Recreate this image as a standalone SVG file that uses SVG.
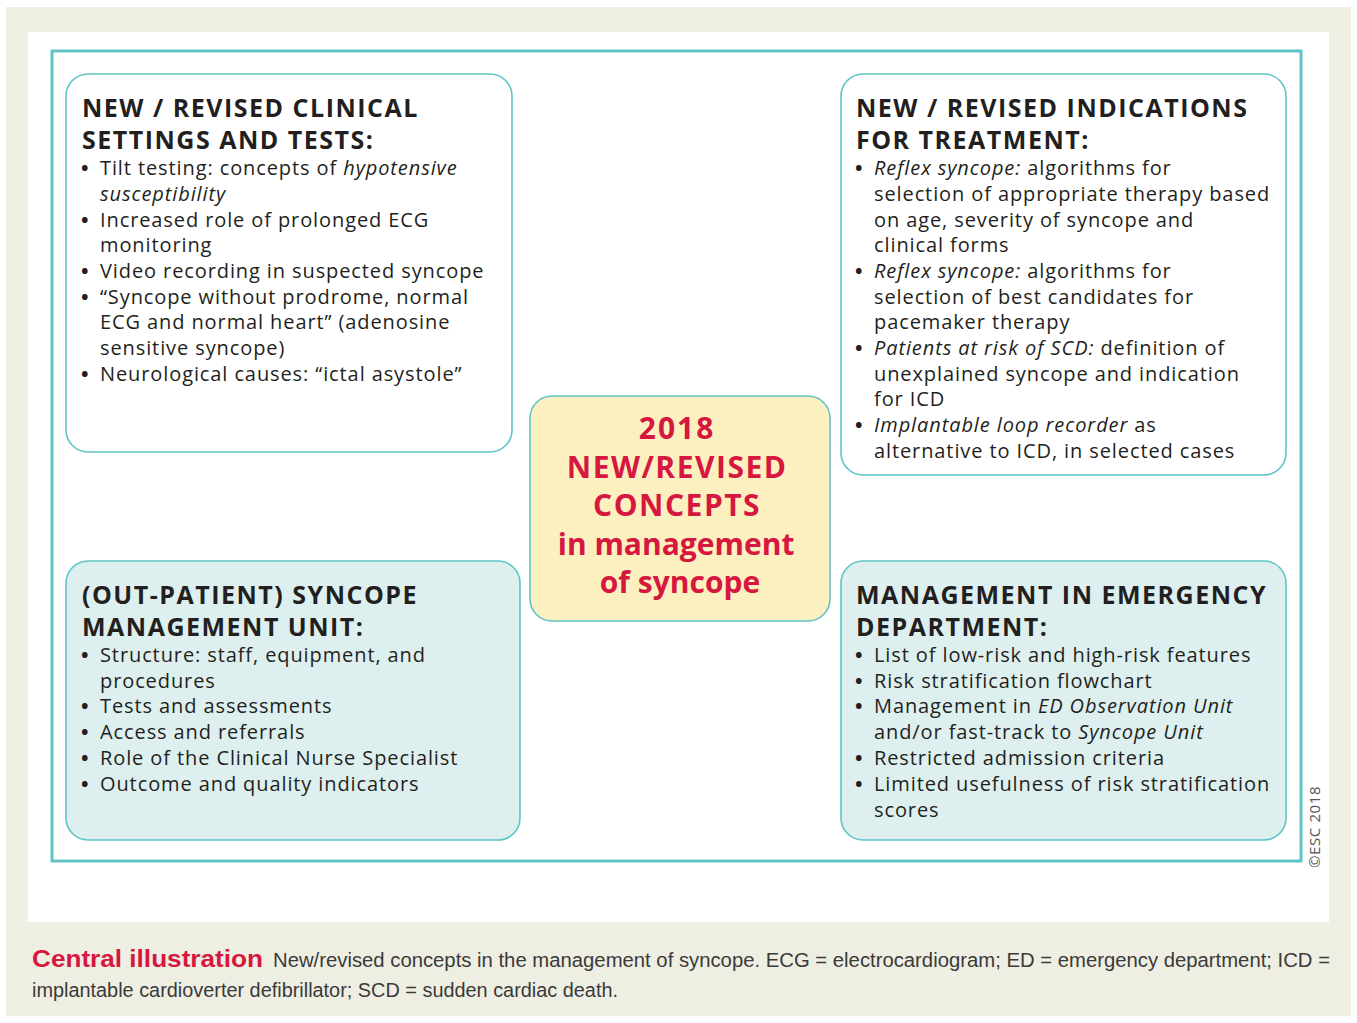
<svg xmlns="http://www.w3.org/2000/svg" width="1357" height="1023" viewBox="0 0 1357 1023">
<style>
.box{stroke:#5FC4C8;stroke-width:1.6}
.w{fill:#FFFFFF}
.t{fill:#DDF0EF}
.h{font-family:"Open Sans","DejaVu Sans",sans-serif;font-weight:bold;font-size:25px;fill:#231F20;letter-spacing:1.5px}
.b{font-family:"Open Sans","DejaVu Sans",sans-serif;font-size:20px;fill:#231F20;letter-spacing:0.9px}
.d{font-weight:bold}
.i{font-style:italic}
.c{font-family:"Open Sans","DejaVu Sans",sans-serif;font-weight:bold;font-size:30px;fill:#D6173F;text-anchor:middle}
.cap{font-family:"Liberation Sans","Open Sans",sans-serif;font-size:20px;fill:#3A3A3A}
</style>
<rect x="0" y="0" width="1357" height="1023" fill="#FFFFFF"/>
<rect x="6" y="7" width="1345" height="1009" fill="#EFEEE3"/>
<rect x="28" y="32" width="1301" height="890" fill="#FFFFFF"/>
<rect x="52" y="51" width="1249" height="810" fill="none" stroke="#5EC4C6" stroke-width="3"/>

<g id="node-clinical">
<rect class="box w" x="66" y="74" width="446" height="378" rx="22"/>
<text class="h"><tspan x="82" y="117">NEW / REVISED CLINICAL</tspan><tspan x="82" y="149">SETTINGS AND TESTS:</tspan></text>
<text class="b">
<tspan x="81" y="175" class="d">•</tspan><tspan x="100" y="175">Tilt testing: concepts of <tspan class="i">hypotensive</tspan></tspan>
<tspan x="100" y="201" class="i">susceptibility</tspan>
<tspan x="81" y="227" class="d">•</tspan><tspan x="100" y="227">Increased role of prolonged ECG</tspan>
<tspan x="100" y="252">monitoring</tspan>
<tspan x="81" y="278" class="d">•</tspan><tspan x="100" y="278">Video recording in suspected syncope</tspan>
<tspan x="81" y="304" class="d">•</tspan><tspan x="100" y="304">“Syncope without prodrome, normal</tspan>
<tspan x="100" y="329">ECG and normal heart” (adenosine</tspan>
<tspan x="100" y="355">sensitive syncope)</tspan>
<tspan x="81" y="381" class="d">•</tspan><tspan x="100" y="381">Neurological causes: “ictal asystole”</tspan>
</text>
</g>

<g id="node-treatment">
<rect class="box w" x="841" y="74" width="445" height="401" rx="22"/>
<text class="h"><tspan x="856" y="117">NEW / REVISED INDICATIONS</tspan><tspan x="856" y="149">FOR TREATMENT:</tspan></text>
<text class="b">
<tspan x="855" y="175" class="d">•</tspan><tspan x="874" y="175"><tspan class="i">Reflex syncope:</tspan> algorithms for</tspan>
<tspan x="874" y="201">selection of appropriate therapy based</tspan>
<tspan x="874" y="227">on age, severity of syncope and</tspan>
<tspan x="874" y="252">clinical forms</tspan>
<tspan x="855" y="278" class="d">•</tspan><tspan x="874" y="278"><tspan class="i">Reflex syncope:</tspan> algorithms for</tspan>
<tspan x="874" y="304">selection of best candidates for</tspan>
<tspan x="874" y="329">pacemaker therapy</tspan>
<tspan x="855" y="355" class="d">•</tspan><tspan x="874" y="355"><tspan class="i">Patients at risk of SCD:</tspan> definition of</tspan>
<tspan x="874" y="381">unexplained syncope and indication</tspan>
<tspan x="874" y="406">for ICD</tspan>
<tspan x="855" y="432" class="d">•</tspan><tspan x="874" y="432"><tspan class="i">Implantable loop recorder</tspan> as</tspan>
<tspan x="874" y="458">alternative to ICD, in selected cases</tspan>
</text>
</g>

<g id="node-unit">
<rect class="box t" x="66" y="561" width="454" height="279" rx="22"/>
<text class="h"><tspan x="82" y="604">(OUT-PATIENT) SYNCOPE</tspan><tspan x="82" y="636">MANAGEMENT UNIT:</tspan></text>
<text class="b">
<tspan x="81" y="662" class="d">•</tspan><tspan x="100" y="662">Structure: staff, equipment, and</tspan>
<tspan x="100" y="688">procedures</tspan>
<tspan x="81" y="713" class="d">•</tspan><tspan x="100" y="713">Tests and assessments</tspan>
<tspan x="81" y="739" class="d">•</tspan><tspan x="100" y="739">Access and referrals</tspan>
<tspan x="81" y="765" class="d">•</tspan><tspan x="100" y="765">Role of the Clinical Nurse Specialist</tspan>
<tspan x="81" y="791" class="d">•</tspan><tspan x="100" y="791">Outcome and quality indicators</tspan>
</text>
</g>

<g id="node-ed">
<rect class="box t" x="841" y="561" width="445" height="279" rx="22"/>
<text class="h"><tspan x="856" y="604">MANAGEMENT IN EMERGENCY</tspan><tspan x="856" y="636">DEPARTMENT:</tspan></text>
<text class="b">
<tspan x="855" y="662" class="d">•</tspan><tspan x="874" y="662">List of low-risk and high-risk features</tspan>
<tspan x="855" y="688" class="d">•</tspan><tspan x="874" y="688">Risk stratification flowchart</tspan>
<tspan x="855" y="713" class="d">•</tspan><tspan x="874" y="713">Management in <tspan class="i">ED Observation Unit</tspan></tspan>
<tspan x="874" y="739">and/or fast-track to <tspan class="i">Syncope Unit</tspan></tspan>
<tspan x="855" y="765" class="d">•</tspan><tspan x="874" y="765">Restricted admission criteria</tspan>
<tspan x="855" y="791" class="d">•</tspan><tspan x="874" y="791">Limited usefulness of risk stratification</tspan>
<tspan x="874" y="817">scores</tspan>
</text>
</g>

<g id="node-center">
<rect x="530" y="396" width="300" height="225" rx="22" fill="#FCF0C0" stroke="#5FC4C8" stroke-width="1.6"/>
<text class="c">
<tspan x="681" y="439" letter-spacing="2">2018</tspan>
<tspan x="681" y="478" letter-spacing="1.5">NEW/REVISED</tspan>
<tspan x="681" y="516" letter-spacing="1.5">CONCEPTS</tspan>
<tspan x="680" y="555">in management</tspan>
<tspan x="680" y="593">of syncope</tspan>
</text>
</g>

<g id="connectors"></g>

<text transform="translate(1320,868) rotate(-90)" font-family="'Open Sans','DejaVu Sans',sans-serif" font-size="15" fill="#555555" letter-spacing="0.6">©ESC 2018</text>

<text x="32" y="967" font-family="'Liberation Sans','Open Sans',sans-serif" font-weight="bold" font-size="23" fill="#D6173F" textLength="231" lengthAdjust="spacingAndGlyphs">Central illustration</text>
<text class="cap" x="273" y="967" textLength="1057" lengthAdjust="spacingAndGlyphs">New/revised concepts in the management of syncope. ECG = electrocardiogram; ED = emergency department; ICD =</text>
<text class="cap" x="32" y="997" textLength="586" lengthAdjust="spacingAndGlyphs">implantable cardioverter defibrillator; SCD = sudden cardiac death.</text>
</svg>
